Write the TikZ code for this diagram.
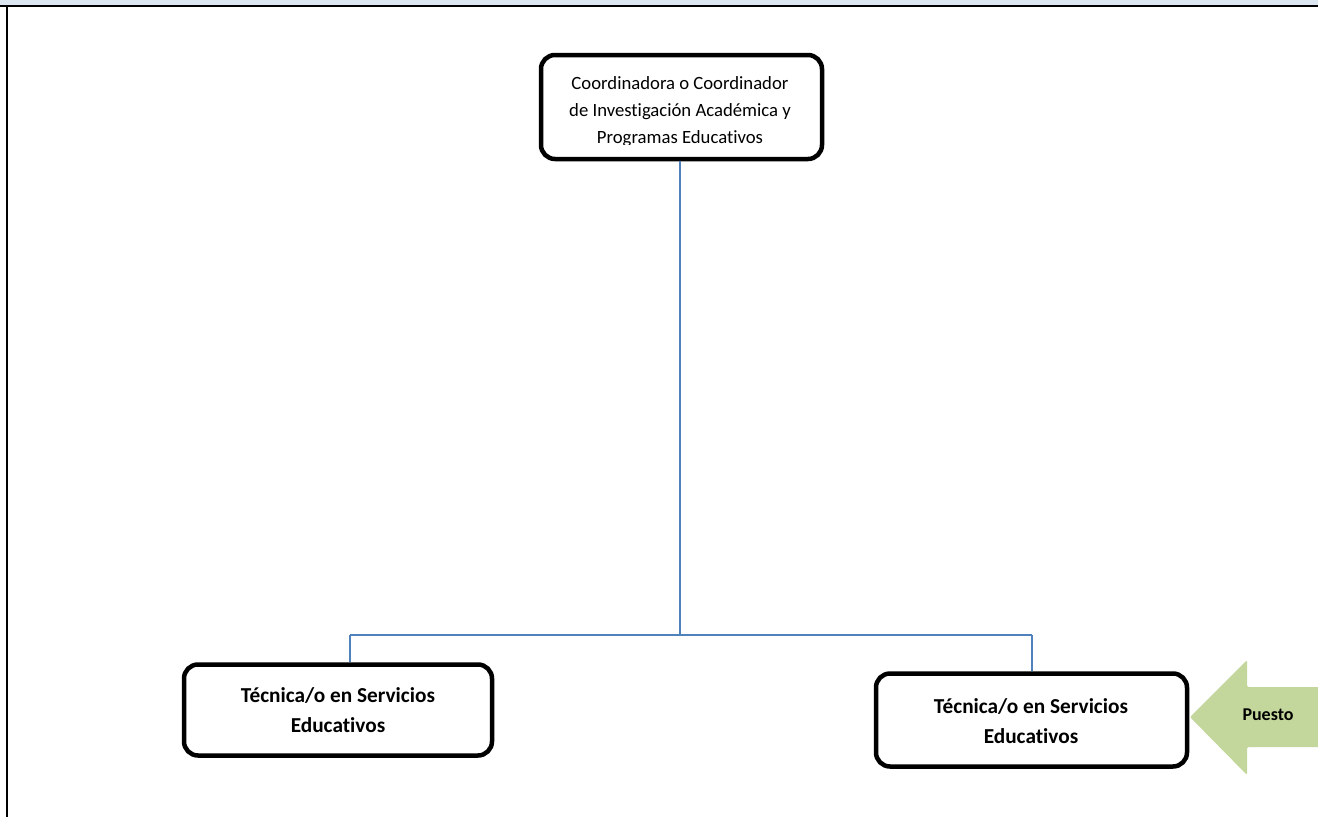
\documentclass[tikz,border=0pt]{standalone}
\usepackage{fontspec}
\setmainfont[Ligatures={NoCommon}]{Carlito}
\definecolor{bandblue}{HTML}{DCE6F1}
\definecolor{linkblue}{HTML}{4F81BD}
\definecolor{arrowgreen}{HTML}{C3D69B}
\begin{document}
\begin{tikzpicture}[x=1pt,y=-1pt,
  box/.style={draw=black,line width=4.5pt,rounded corners=14pt,fill=white,inner sep=0pt},
  link/.style={draw=linkblue,line width=1.4pt},
  lbl/.style={align=center,font=\fontsize{18.7}{27}\selectfont},
  blbl/.style={align=center,font=\bfseries\fontsize{21.3}{30}\selectfont}]
\useasboundingbox (0,0) rectangle (1318,817);
\fill[bandblue] (0,0) rectangle (1318,5);
\draw[line width=2.2pt] (0,6) -- (1318,6);
\draw[line width=2.2pt] (7,6) -- (7,817);
% boxes
\node[box,minimum width=281pt,minimum height=104pt] (top) at (681.5,107) {};
\begin{scope}
\clip (545,58) rectangle (818,144);
\node[lbl] (toptext) at (680,112) {Coordinadora o Coordinador\\de Investigación Académica y\\Programas Educativos};
\end{scope}
\node[box,minimum width=308pt,minimum height=91pt] (left) at (338,710) {};
\node[blbl] (lefttext) at (338,710) {Técnica/o en Servicios\\Educativos};
\node[box,minimum width=311pt,minimum height=93pt] (right) at (1031.5,720) {};
\node[blbl] (righttext) at (1031,721) {Técnica/o en Servicios\\Educativos};
% connectors
\coordinate (j) at (680,635);
\coordinate (jl) at (350,635);
\coordinate (jr) at (1032,635);
\draw[link] (top.south -| j) -- (j);
\draw[link] (jl) -- (jr);
\draw[link] (jl) -- (jl |- left.north);
\draw[link] (jr) -- (jr |- right.north);
% arrow
\fill[arrowgreen,rounded corners=2pt] (1190,717) -- (1247,660) -- (1247,687) -- (1330,687) -- (1330,747) -- (1247,747) -- (1247,775) -- cycle;
\node[font=\bfseries\fontsize{18}{20}\selectfont] (puesto) at (1268,715) {Puesto};
\end{tikzpicture}
\end{document}
